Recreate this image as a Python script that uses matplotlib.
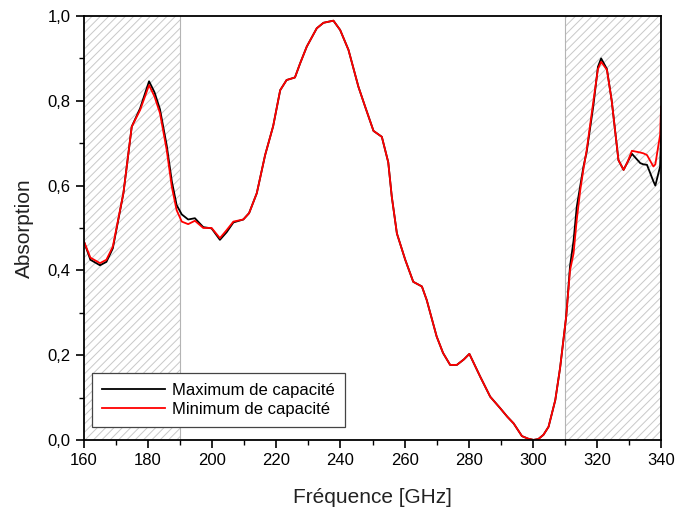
# Absorption en fonction de la fréquence, capacité max / min
import matplotlib.pyplot as plt
from matplotlib.ticker import MultipleLocator, FuncFormatter

plt.rcParams['font.family'] = ['Liberation Sans', 'DejaVu Sans']
plt.rcParams['hatch.linewidth'] = 0.7

# Fréquences (GHz)
freq = [160, 162, 165, 167, 169, 172.3, 174.9, 177.5, 180.3, 182, 183.7, 185.8,
        187.4, 188.9, 190.5, 192.5, 194.6, 197.2, 199.8, 202.4, 204.5, 206.6,
        209.7, 211.5, 213.9, 216.5, 219, 221.2, 223.2, 225.8, 227.4, 229.5,
        232.6, 234.7, 237.8, 239.9, 242.5, 245.6, 247.7, 250.3, 252.9, 254.9,
        256, 257.6, 260.2, 262.7, 265.4, 266.9, 270, 272, 274.2, 276.3, 278.5,
        280.2, 283.6, 286.7, 289.8, 292, 294, 296.6, 298.5, 300.2, 301.7,
        303.3, 304.9, 307, 308.5, 310.4, 311.6, 312.7, 313.7, 314.8, 315.8,
        316.8, 318.9, 320.3, 321.3, 323.1, 324.6, 326.7, 328.3, 329.5, 330.9,
        333.5, 334.5, 335.6, 337.6, 338.2, 339.7, 340]

# Maximum de capacité (courbe noire)
abs_max = [0.468, 0.425, 0.412, 0.42, 0.452, 0.582, 0.739, 0.782, 0.846, 0.82,
           0.78, 0.695, 0.61, 0.554, 0.532, 0.52, 0.523, 0.502, 0.499, 0.472,
           0.49, 0.513, 0.52, 0.535, 0.582, 0.672, 0.74, 0.825, 0.849, 0.855,
           0.888, 0.928, 0.971, 0.984, 0.989, 0.967, 0.92, 0.833, 0.786, 0.729,
           0.715, 0.655, 0.574, 0.487, 0.425, 0.373, 0.362, 0.33, 0.244, 0.205,
           0.177, 0.177, 0.19, 0.203, 0.149, 0.102, 0.075, 0.055, 0.039, 0.009,
           0.003, 0.0, 0.002, 0.012, 0.031, 0.094, 0.17, 0.291, 0.41, 0.47,
           0.55, 0.60, 0.645, 0.68, 0.79, 0.88, 0.90, 0.875, 0.80, 0.66, 0.637,
           0.655, 0.675, 0.653, 0.65, 0.649, 0.61, 0.60, 0.645, 0.72]

# Minimum de capacité (courbe rouge)
abs_min = [0.468, 0.43, 0.417, 0.425, 0.456, 0.582, 0.739, 0.778, 0.837, 0.81,
           0.771, 0.684, 0.597, 0.542, 0.515, 0.509, 0.517, 0.50, 0.50, 0.476,
           0.495, 0.515, 0.52, 0.535, 0.582, 0.672, 0.74, 0.825, 0.849, 0.855,
           0.888, 0.928, 0.971, 0.984, 0.989, 0.967, 0.92, 0.833, 0.786, 0.729,
           0.715, 0.655, 0.574, 0.487, 0.425, 0.373, 0.362, 0.33, 0.244, 0.205,
           0.177, 0.177, 0.19, 0.203, 0.149, 0.102, 0.075, 0.055, 0.039, 0.009,
           0.003, 0.0, 0.002, 0.012, 0.031, 0.094, 0.17, 0.291, 0.40, 0.44,
           0.52, 0.59, 0.64, 0.684, 0.80, 0.875, 0.892, 0.873, 0.80, 0.66,
           0.637, 0.655, 0.682, 0.678, 0.676, 0.672, 0.645, 0.65, 0.72, 0.786]

# Zones hachurées
zones = [(160, 190), (310, 340)]

fig = plt.figure(figsize=(6.75, 5.08), dpi=100)
ax = fig.add_axes([0.1244, 0.134, 0.855, 0.8345])

for a, b in zones:
    ax.axvspan(a, b, facecolor='white', edgecolor='#c8c8c8', hatch='////',
               linewidth=0, zorder=0)
ax.axvline(190, color='#b4b4b4', lw=0.8, zorder=1)
ax.axvline(310, color='#b4b4b4', lw=0.8, zorder=1)

ax.plot(freq, abs_max, color='black', lw=1.3, solid_joinstyle='round',
        label='Maximum de capacité')
ax.plot(freq, abs_min, color='red', lw=1.3, solid_joinstyle='round',
        label='Minimum de capacité')

ax.set_xlim(160, 340)
ax.set_ylim(0, 1.0)
ax.xaxis.set_major_locator(MultipleLocator(20))
ax.xaxis.set_minor_locator(MultipleLocator(10))
ax.yaxis.set_major_locator(MultipleLocator(0.2))
ax.yaxis.set_minor_locator(MultipleLocator(0.1))
ax.yaxis.set_major_formatter(FuncFormatter(lambda v, p: f'{v:.1f}'.replace('.', ',')))
ax.tick_params(which='major', direction='out', length=6, width=1.2, labelsize=12)
ax.tick_params(which='minor', direction='out', length=3.5, width=1.0)
for s in ax.spines.values():
    s.set_linewidth(1.3)

ax.set_xlabel('Fréquence [GHz]', fontsize=15, color='#222222', labelpad=14)
ax.set_ylabel('Absorption', fontsize=15, color='#222222', labelpad=10)

leg = ax.legend(loc='lower left', bbox_to_anchor=(0.014, 0.031), borderaxespad=0,
                fontsize=12, fancybox=False, framealpha=1, edgecolor='#444444',
                handlelength=3.8, borderpad=0.6, labelspacing=0.25,
                handletextpad=0.4)
leg.get_frame().set_linewidth(0.9)

fig.savefig('out.png', dpi=100)
